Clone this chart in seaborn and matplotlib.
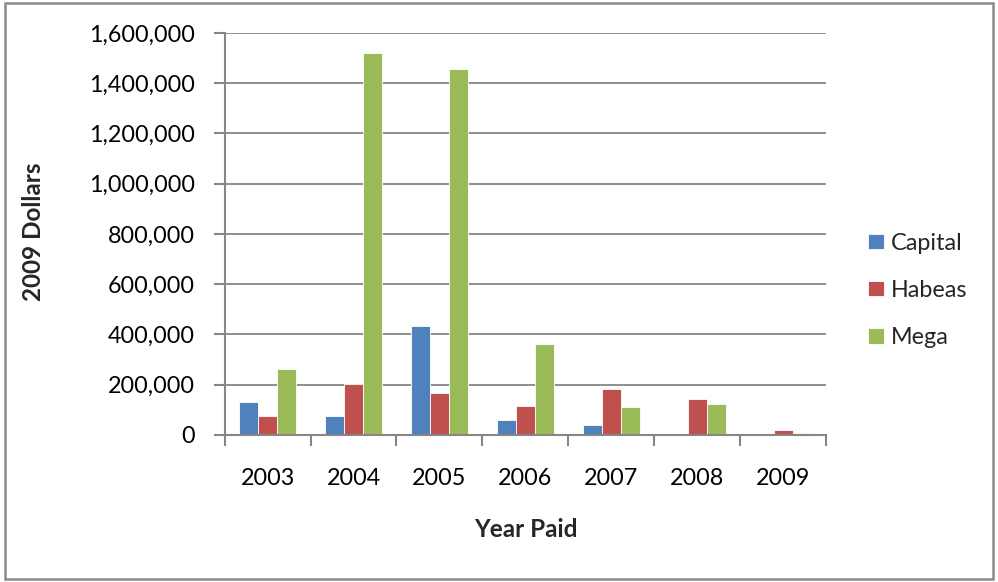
import matplotlib
matplotlib.use("Agg")
import matplotlib.pyplot as plt
import matplotlib.ticker as mticker
from matplotlib.patches import Rectangle
import seaborn as sns
import pandas as pd

years = ["2003", "2004", "2005", "2006", "2007", "2008", "2009"]
capital = [130000, 74000, 433000, 58000, 40000, 0, 0]
habeas = [74000, 204000, 166000, 116000, 183000, 143000, 20000]
mega = [262000, 1519000, 1456000, 362000, 110000, 122000, 9000]
series_names = ["Capital", "Habeas", "Mega"]
series_colors = ["#4F81BD", "#C0504D", "#9BBB59"]

df = pd.DataFrame({
    "Year": years * 3,
    "Dollars": capital + habeas + mega,
    "Type": [s for s in series_names for _ in years],
})

sns.set_theme(style="white")
plt.rcParams["font.family"] = ["Lato", "DejaVu Sans"]

FS = 16.8
LFS = 17.5
fig = plt.figure(figsize=(9.98, 5.82), dpi=100)
ax = fig.add_axes([0.225, 0.2526, 0.603, 0.6907])

sns.barplot(data=df, x="Year", y="Dollars", hue="Type", order=years,
            hue_order=series_names, palette=series_colors, width=0.663,
            edgecolor="white", linewidth=0.6, ax=ax, saturation=1)

grid_c = "#868686"
ax.set_ylim(0, 1600000)
ax.set_xlim(-0.5, len(years) - 0.5)
ax.yaxis.set_major_locator(mticker.MultipleLocator(200000))
ax.yaxis.set_major_formatter(mticker.FuncFormatter(lambda v, p: f"{int(v):,}"))
ax.yaxis.grid(True, color=grid_c, linewidth=1.3)
ax.set_axisbelow(True)

for s in ["top", "right"]:
    ax.spines[s].set_visible(False)
for s in ["left", "bottom"]:
    ax.spines[s].set_color(grid_c)
    ax.spines[s].set_linewidth(1.5)

ax.set_xticks(range(len(years)))
ax.set_xticklabels(years)
ax.set_xticks([i - 0.5 for i in range(len(years) + 1)], minor=True)
ax.tick_params(axis="x", which="major", length=0, pad=23.5, labelsize=FS,
               labelcolor="black")
ax.tick_params(axis="x", which="minor", length=8, width=1.5, color=grid_c,
               direction="out", bottom=True)
ax.tick_params(axis="y", which="major", length=8, width=1.5, color=grid_c,
               direction="out", left=True, pad=13.5, labelsize=FS,
               labelcolor="black")

ax.set_xlabel("Year Paid", fontsize=LFS, fontweight="bold")
ax.xaxis.label.set_va("center")
ax.xaxis.set_label_coords(0.5, -0.236)
ax.set_ylabel("2009 Dollars", fontsize=LFS, fontweight="bold")
ax.yaxis.label.set_va("center")
ax.yaxis.set_label_coords(-0.317, 0.505)

handles, labels = ax.get_legend_handles_labels()
ax.legend(handles, labels, loc="center left", bbox_to_anchor=(1.07, 0.36),
          frameon=False, fontsize=FS, handlelength=0.66, handleheight=0.66,
          labelspacing=1.12, handletextpad=0.3, borderpad=0,
          borderaxespad=0)

fig.patches.append(Rectangle((0.005, 0.006), 0.99, 0.988,
                             transform=fig.transFigure, fill=False,
                             edgecolor="#8a8a8a", linewidth=1.8))

fig.savefig("out.png", dpi=100)
